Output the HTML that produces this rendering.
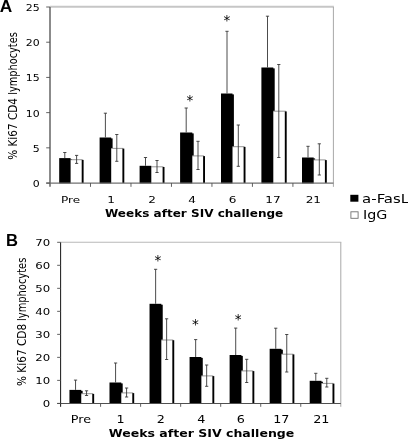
<!DOCTYPE html>
<html lang="en">
<head>
<meta charset="utf-8">
<title>Ki67 lymphocytes after SIV challenge</title>
<style>
html,body{margin:0;padding:0;background:#fff;}
body{width:408px;height:440px;overflow:hidden;}
svg{display:block;}
text{font-family:"DejaVu Sans","Liberation Sans",sans-serif;fill:#000;}
.t{font-size:9.2px;}
.t2{font-size:9.8px;}
.t3{font-size:8.9px;}
.s{font-size:13.6px;fill:#000;}
.xt{font-size:10px;font-weight:bold;fill:#000;}
.yt{font-size:12.3px;}
.lg{font-size:11.6px;}
.p{font-family:"Liberation Sans",sans-serif;font-weight:bold;font-size:17.3px;fill:#000;}
</style>
</head>
<body>
<svg width="408" height="440" viewBox="0 0 408 440">
<rect width="408" height="440" fill="#fff"/>
<line x1="50" y1="6.8" x2="333.9" y2="6.8" stroke="#c6c6c6" stroke-width="1.9"/>
<line x1="333.4" y1="7" x2="333.4" y2="186.85" stroke="#a8a8a8" stroke-width="1"/>
<rect x="70.6" y="159.3" width="13" height="23.75" fill="#fff"/>
<line x1="70.6" y1="159.7" x2="82.6" y2="159.7" stroke="#8a8a8a" stroke-width="0.9"/>
<rect x="81.7" y="159.9" width="1.9" height="23.15" fill="#000"/>
<rect x="59.2" y="158.1" width="11.4" height="25.35" fill="#000"/>
<rect x="70" y="159" width="2" height="0.3" fill="#000"/>
<path d="M64.8 158.1V152.5M63.2 152.5H66.4" stroke="#383838" stroke-width="0.9" fill="none"/>
<path d="M76.6 163.4V155.4M75 155.4H78.2M75 163.4H78.2" stroke="#383838" stroke-width="0.9" fill="none"/>
<rect x="111.2" y="148" width="13.1" height="35.05" fill="#fff"/>
<line x1="111.2" y1="148.4" x2="123.3" y2="148.4" stroke="#8a8a8a" stroke-width="0.9"/>
<rect x="122.4" y="148.6" width="1.9" height="34.45" fill="#000"/>
<rect x="99.6" y="137.5" width="11.6" height="45.95" fill="#000"/>
<rect x="110.6" y="138.4" width="2" height="9.6" fill="#000"/>
<path d="M105.4 137.5V113.2M103.8 113.2H107" stroke="#383838" stroke-width="0.9" fill="none"/>
<path d="M116.8 161.3V134.5M115.2 134.5H118.4M115.2 161.3H118.4" stroke="#383838" stroke-width="0.9" fill="none"/>
<rect x="151.3" y="166.4" width="13.2" height="16.65" fill="#fff"/>
<line x1="151.3" y1="166.8" x2="163.5" y2="166.8" stroke="#8a8a8a" stroke-width="0.9"/>
<rect x="162.6" y="167" width="1.9" height="16.05" fill="#000"/>
<rect x="139.6" y="165.8" width="11.7" height="17.65" fill="#000"/>
<path d="M145.5 165.8V157.5M143.9 157.5H147.1" stroke="#383838" stroke-width="0.9" fill="none"/>
<path d="M157 172.5V160.5M155.4 160.5H158.6M155.4 172.5H158.6" stroke="#383838" stroke-width="0.9" fill="none"/>
<rect x="192.3" y="155.5" width="12.7" height="27.55" fill="#fff"/>
<line x1="192.3" y1="155.9" x2="204" y2="155.9" stroke="#8a8a8a" stroke-width="0.9"/>
<rect x="203.1" y="156.1" width="1.9" height="26.95" fill="#000"/>
<rect x="180.1" y="132.5" width="12.2" height="50.95" fill="#000"/>
<rect x="191.7" y="133.4" width="2" height="22.1" fill="#000"/>
<path d="M186.2 132.5V108M184.6 108H187.8" stroke="#383838" stroke-width="0.9" fill="none"/>
<path d="M198 169.5V141.3M196.4 141.3H199.6M196.4 169.5H199.6" stroke="#383838" stroke-width="0.9" fill="none"/>
<rect x="232.5" y="146.3" width="13" height="36.75" fill="#fff"/>
<line x1="232.5" y1="146.7" x2="244.5" y2="146.7" stroke="#8a8a8a" stroke-width="0.9"/>
<rect x="243.6" y="146.9" width="1.9" height="36.15" fill="#000"/>
<rect x="221" y="93.5" width="11.5" height="89.95" fill="#000"/>
<rect x="231.9" y="94.4" width="2" height="51.9" fill="#000"/>
<path d="M227 93.5V31.3M225.4 31.3H228.6" stroke="#383838" stroke-width="0.9" fill="none"/>
<path d="M238.3 166.3V125M236.7 125H239.9M236.7 166.3H239.9" stroke="#383838" stroke-width="0.9" fill="none"/>
<rect x="273.3" y="110.8" width="13.4" height="72.25" fill="#fff"/>
<line x1="273.3" y1="111.2" x2="285.7" y2="111.2" stroke="#8a8a8a" stroke-width="0.9"/>
<rect x="284.8" y="111.4" width="1.9" height="71.65" fill="#000"/>
<rect x="261.4" y="67.5" width="11.9" height="115.95" fill="#000"/>
<rect x="272.7" y="68.4" width="2" height="42.4" fill="#000"/>
<path d="M267.5 67.5V16.2M265.9 16.2H269.1" stroke="#383838" stroke-width="0.9" fill="none"/>
<path d="M278.8 157.5V64.5M277.2 64.5H280.4M277.2 157.5H280.4" stroke="#383838" stroke-width="0.9" fill="none"/>
<rect x="313.7" y="159.5" width="13.1" height="23.55" fill="#fff"/>
<line x1="313.7" y1="159.9" x2="325.8" y2="159.9" stroke="#8a8a8a" stroke-width="0.9"/>
<rect x="324.9" y="160.1" width="1.9" height="22.95" fill="#000"/>
<rect x="302" y="157.5" width="11.7" height="25.95" fill="#000"/>
<rect x="313.1" y="158.4" width="2" height="1.1" fill="#000"/>
<path d="M308 157.5V146.3M306.4 146.3H309.6" stroke="#383838" stroke-width="0.9" fill="none"/>
<path d="M319.3 175V143.8M317.7 143.8H320.9M317.7 175H320.9" stroke="#383838" stroke-width="0.9" fill="none"/>
<line x1="46.2" y1="183.05" x2="333.4" y2="183.05" stroke="#707070" stroke-width="1.3"/>
<line x1="50" y1="7" x2="50" y2="186.85" stroke="#6a6a6a" stroke-width="1.55"/>
<line x1="46.2" y1="183.05" x2="50" y2="183.05" stroke="#505050" stroke-width="0.9"/>
<line x1="46.2" y1="147.84" x2="50" y2="147.84" stroke="#505050" stroke-width="0.9"/>
<line x1="46.2" y1="112.63" x2="50" y2="112.63" stroke="#505050" stroke-width="0.9"/>
<line x1="46.2" y1="77.42" x2="50" y2="77.42" stroke="#505050" stroke-width="0.9"/>
<line x1="46.2" y1="42.21" x2="50" y2="42.21" stroke="#505050" stroke-width="0.9"/>
<line x1="46.2" y1="7" x2="50" y2="7" stroke="#505050" stroke-width="0.9"/>
<line x1="90.49" y1="183.05" x2="90.49" y2="186.85" stroke="#505050" stroke-width="0.9"/>
<line x1="130.97" y1="183.05" x2="130.97" y2="186.85" stroke="#505050" stroke-width="0.9"/>
<line x1="171.46" y1="183.05" x2="171.46" y2="186.85" stroke="#505050" stroke-width="0.9"/>
<line x1="211.94" y1="183.05" x2="211.94" y2="186.85" stroke="#505050" stroke-width="0.9"/>
<line x1="252.43" y1="183.05" x2="252.43" y2="186.85" stroke="#505050" stroke-width="0.9"/>
<line x1="292.91" y1="183.05" x2="292.91" y2="186.85" stroke="#505050" stroke-width="0.9"/>
<text transform="translate(39.8 186.95) scale(1.19 1)" class="t" text-anchor="end">0</text>
<text transform="translate(39.8 151.74) scale(1.19 1)" class="t" text-anchor="end">5</text>
<text transform="translate(39.8 116.53) scale(1.19 1)" class="t" text-anchor="end">10</text>
<text transform="translate(39.8 81.32) scale(1.19 1)" class="t" text-anchor="end">15</text>
<text transform="translate(39.8 46.11) scale(1.19 1)" class="t" text-anchor="end">20</text>
<text transform="translate(39.8 10.9) scale(1.19 1)" class="t" text-anchor="end">25</text>
<text transform="translate(70.5 202.9) scale(1.31 1)" class="t" text-anchor="middle">Pre</text>
<text transform="translate(111.2 202.9) scale(1.31 1)" class="t" text-anchor="middle">1</text>
<text transform="translate(152 202.9) scale(1.31 1)" class="t" text-anchor="middle">2</text>
<text transform="translate(192 202.9) scale(1.31 1)" class="t" text-anchor="middle">4</text>
<text transform="translate(232.5 202.9) scale(1.31 1)" class="t" text-anchor="middle">6</text>
<text transform="translate(273 202.9) scale(1.31 1)" class="t" text-anchor="middle">17</text>
<text transform="translate(313.3 202.9) scale(1.31 1)" class="t" text-anchor="middle">21</text>
<text transform="translate(190 104.8)" class="s" text-anchor="middle">*</text>
<text transform="translate(227 24.8)" class="s" text-anchor="middle">*</text>
<line x1="60.55" y1="242.3" x2="341.3" y2="242.3" stroke="#b8b8b8" stroke-width="1.1"/>
<line x1="340.8" y1="242.3" x2="340.8" y2="406.8" stroke="#a8a8a8" stroke-width="1"/>
<rect x="81.25" y="393.3" width="12.9" height="10.1" fill="#fff"/>
<line x1="81.25" y1="393.7" x2="93.15" y2="393.7" stroke="#8a8a8a" stroke-width="0.9"/>
<rect x="92.25" y="393.9" width="1.9" height="9.5" fill="#000"/>
<rect x="69.45" y="389.9" width="11.8" height="13.9" fill="#000"/>
<rect x="80.65" y="390.8" width="2" height="2.5" fill="#000"/>
<path d="M75.55 389.9V380.1M73.95 380.1H77.15" stroke="#383838" stroke-width="0.9" fill="none"/>
<path d="M86.55 395.5V390.8M84.95 390.8H88.15M84.95 395.5H88.15" stroke="#383838" stroke-width="0.9" fill="none"/>
<rect x="121.29" y="392.5" width="12.9" height="10.9" fill="#fff"/>
<line x1="121.29" y1="392.9" x2="133.19" y2="392.9" stroke="#8a8a8a" stroke-width="0.9"/>
<rect x="132.29" y="393.1" width="1.9" height="10.3" fill="#000"/>
<rect x="109.49" y="382.5" width="11.8" height="21.3" fill="#000"/>
<rect x="120.69" y="383.4" width="2" height="9.1" fill="#000"/>
<path d="M115.59 382.5V363M113.99 363H117.19" stroke="#383838" stroke-width="0.9" fill="none"/>
<path d="M126.59 397V388M124.99 388H128.19M124.99 397H128.19" stroke="#383838" stroke-width="0.9" fill="none"/>
<rect x="161.33" y="339.6" width="12.9" height="63.8" fill="#fff"/>
<line x1="161.33" y1="340" x2="173.23" y2="340" stroke="#8a8a8a" stroke-width="0.9"/>
<rect x="172.33" y="340.2" width="1.9" height="63.2" fill="#000"/>
<rect x="149.53" y="303.8" width="11.8" height="100" fill="#000"/>
<rect x="160.73" y="304.7" width="2" height="34.9" fill="#000"/>
<path d="M155.63 303.8V269.3M154.03 269.3H157.23" stroke="#383838" stroke-width="0.9" fill="none"/>
<path d="M166.63 359.5V318.8M165.03 318.8H168.23M165.03 359.5H168.23" stroke="#383838" stroke-width="0.9" fill="none"/>
<rect x="201.37" y="375.5" width="12.9" height="27.9" fill="#fff"/>
<line x1="201.37" y1="375.9" x2="213.27" y2="375.9" stroke="#8a8a8a" stroke-width="0.9"/>
<rect x="212.37" y="376.1" width="1.9" height="27.3" fill="#000"/>
<rect x="189.57" y="357" width="11.8" height="46.8" fill="#000"/>
<rect x="200.77" y="357.9" width="2" height="17.6" fill="#000"/>
<path d="M195.67 357V339.6M194.07 339.6H197.27" stroke="#383838" stroke-width="0.9" fill="none"/>
<path d="M206.67 386.3V365M205.07 365H208.27M205.07 386.3H208.27" stroke="#383838" stroke-width="0.9" fill="none"/>
<rect x="241.41" y="370.5" width="12.9" height="32.9" fill="#fff"/>
<line x1="241.41" y1="370.9" x2="253.31" y2="370.9" stroke="#8a8a8a" stroke-width="0.9"/>
<rect x="252.41" y="371.1" width="1.9" height="32.3" fill="#000"/>
<rect x="229.61" y="355" width="11.8" height="48.8" fill="#000"/>
<rect x="240.81" y="355.9" width="2" height="14.6" fill="#000"/>
<path d="M235.71 355V328.1M234.11 328.1H237.31" stroke="#383838" stroke-width="0.9" fill="none"/>
<path d="M246.71 382.5V359.3M245.11 359.3H248.31M245.11 382.5H248.31" stroke="#383838" stroke-width="0.9" fill="none"/>
<rect x="281.45" y="353.8" width="12.9" height="49.6" fill="#fff"/>
<line x1="281.45" y1="354.2" x2="293.35" y2="354.2" stroke="#8a8a8a" stroke-width="0.9"/>
<rect x="292.45" y="354.4" width="1.9" height="49" fill="#000"/>
<rect x="269.65" y="348.8" width="11.8" height="55" fill="#000"/>
<rect x="280.85" y="349.7" width="2" height="4.1" fill="#000"/>
<path d="M275.75 348.8V328.2M274.15 328.2H277.35" stroke="#383838" stroke-width="0.9" fill="none"/>
<path d="M286.75 372V334.5M285.15 334.5H288.35M285.15 372H288.35" stroke="#383838" stroke-width="0.9" fill="none"/>
<rect x="321.49" y="383" width="12.9" height="20.4" fill="#fff"/>
<line x1="321.49" y1="383.4" x2="333.39" y2="383.4" stroke="#8a8a8a" stroke-width="0.9"/>
<rect x="332.49" y="383.6" width="1.9" height="19.8" fill="#000"/>
<rect x="309.69" y="380.8" width="11.8" height="23" fill="#000"/>
<rect x="320.89" y="381.7" width="2" height="1.3" fill="#000"/>
<path d="M315.79 380.8V373.3M314.19 373.3H317.39" stroke="#383838" stroke-width="0.9" fill="none"/>
<path d="M326.79 387V378.3M325.19 378.3H328.39M325.19 387H328.39" stroke="#383838" stroke-width="0.9" fill="none"/>
<line x1="57.15" y1="403.4" x2="340.8" y2="403.4" stroke="#505050" stroke-width="1.05"/>
<line x1="60.55" y1="242.3" x2="60.55" y2="406.8" stroke="#2e2e2e" stroke-width="1.15"/>
<line x1="57.15" y1="403.4" x2="60.55" y2="403.4" stroke="#505050" stroke-width="0.9"/>
<line x1="57.15" y1="380.39" x2="60.55" y2="380.39" stroke="#505050" stroke-width="0.9"/>
<line x1="57.15" y1="357.37" x2="60.55" y2="357.37" stroke="#505050" stroke-width="0.9"/>
<line x1="57.15" y1="334.36" x2="60.55" y2="334.36" stroke="#505050" stroke-width="0.9"/>
<line x1="57.15" y1="311.34" x2="60.55" y2="311.34" stroke="#505050" stroke-width="0.9"/>
<line x1="57.15" y1="288.33" x2="60.55" y2="288.33" stroke="#505050" stroke-width="0.9"/>
<line x1="57.15" y1="265.31" x2="60.55" y2="265.31" stroke="#505050" stroke-width="0.9"/>
<line x1="57.15" y1="242.3" x2="60.55" y2="242.3" stroke="#505050" stroke-width="0.9"/>
<line x1="100.59" y1="403.4" x2="100.59" y2="406.8" stroke="#505050" stroke-width="0.9"/>
<line x1="140.62" y1="403.4" x2="140.62" y2="406.8" stroke="#505050" stroke-width="0.9"/>
<line x1="180.66" y1="403.4" x2="180.66" y2="406.8" stroke="#505050" stroke-width="0.9"/>
<line x1="220.69" y1="403.4" x2="220.69" y2="406.8" stroke="#505050" stroke-width="0.9"/>
<line x1="260.73" y1="403.4" x2="260.73" y2="406.8" stroke="#505050" stroke-width="0.9"/>
<line x1="300.76" y1="403.4" x2="300.76" y2="406.8" stroke="#505050" stroke-width="0.9"/>
<text transform="translate(50.15 407.05) scale(1.32 1)" class="t3" text-anchor="end">0</text>
<text transform="translate(50.15 384.04) scale(1.32 1)" class="t3" text-anchor="end">10</text>
<text transform="translate(50.15 361.02) scale(1.32 1)" class="t3" text-anchor="end">20</text>
<text transform="translate(50.15 338.01) scale(1.32 1)" class="t3" text-anchor="end">30</text>
<text transform="translate(50.15 314.99) scale(1.32 1)" class="t3" text-anchor="end">40</text>
<text transform="translate(50.15 291.98) scale(1.32 1)" class="t3" text-anchor="end">50</text>
<text transform="translate(50.15 268.96) scale(1.32 1)" class="t3" text-anchor="end">60</text>
<text transform="translate(50.15 245.95) scale(1.32 1)" class="t3" text-anchor="end">70</text>
<text transform="translate(80.9 423.4) scale(1.3 1)" class="t2" text-anchor="middle">Pre</text>
<text transform="translate(120.6 423.4) scale(1.3 1)" class="t2" text-anchor="middle">1</text>
<text transform="translate(160.9 423.4) scale(1.3 1)" class="t2" text-anchor="middle">2</text>
<text transform="translate(201.3 423.4) scale(1.3 1)" class="t2" text-anchor="middle">4</text>
<text transform="translate(240.8 423.4) scale(1.3 1)" class="t2" text-anchor="middle">6</text>
<text transform="translate(281.3 423.4) scale(1.3 1)" class="t2" text-anchor="middle">17</text>
<text transform="translate(321.3 423.4) scale(1.3 1)" class="t2" text-anchor="middle">21</text>
<text transform="translate(157.9 264.9)" class="s" text-anchor="middle">*</text>
<text transform="translate(195.5 329)" class="s" text-anchor="middle">*</text>
<text transform="translate(238.2 323.7)" class="s" text-anchor="middle">*</text>
<text x="-0.2" y="11.8" class="p" textLength="12.5" lengthAdjust="spacingAndGlyphs">A</text>
<text x="5.9" y="245.6" class="p" textLength="12" lengthAdjust="spacingAndGlyphs">B</text>
<text x="105" y="216.8" class="xt" textLength="178.3" lengthAdjust="spacingAndGlyphs">Weeks after SIV challenge</text>
<text x="108.8" y="437" class="xt" textLength="185.5" lengthAdjust="spacingAndGlyphs">Weeks after SIV challenge</text>
<text transform="translate(17.05 159.85) rotate(-90)" class="yt" textLength="61.8" lengthAdjust="spacingAndGlyphs">% Ki67 CD4</text>
<text transform="translate(17.05 94.8) rotate(-90)" class="yt" textLength="62.6" lengthAdjust="spacingAndGlyphs">lymphocytes</text>
<text transform="translate(25.95 386) rotate(-90)" class="yt" textLength="62.1" lengthAdjust="spacingAndGlyphs">% Ki67 CD8</text>
<text transform="translate(25.95 320.95) rotate(-90)" class="yt" textLength="63.3" lengthAdjust="spacingAndGlyphs">lymphocytes</text>
<rect x="350.3" y="194.8" width="8.1" height="6.9" fill="#000"/>
<rect x="350.9" y="211.8" width="7.2" height="6.5" fill="#fff" stroke="#707070" stroke-width="0.9"/>
<text x="362.1" y="202.6" class="lg" textLength="47" lengthAdjust="spacingAndGlyphs">a-FasL</text>
<text x="363.1" y="219.2" class="lg" textLength="24.3" lengthAdjust="spacingAndGlyphs">IgG</text>
</svg>
</body>
</html>
